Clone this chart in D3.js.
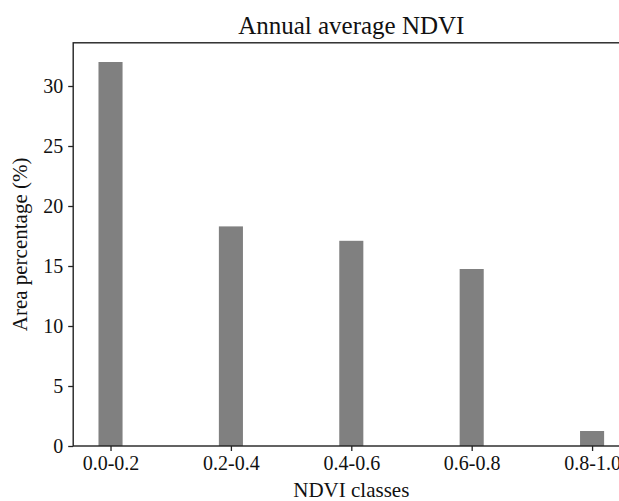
<!DOCTYPE html>
<html>
<head>
<meta charset="utf-8">
<script src="https://cdn.jsdelivr.net/npm/d3@7"></script>
<style>
  html, body { margin: 0; padding: 0; background: #fff; }
  svg { display: block; }
  text { font-family: "Liberation Serif", "Times New Roman", serif; fill: #111; }
</style>
</head>
<body>
<svg id="chart" width="619" height="501"></svg>
<script>
// NDVI class shares of total area
const categories = ["0.0-0.2", "0.2-0.4", "0.4-0.6", "0.6-0.8", "0.8-1.0"];
const areaPct = [32.0, 18.3, 17.1, 14.75, 1.25];
const yTicks = [0, 5, 10, 15, 20, 25, 30];

const W = 619, H = 501;
const plot = { left: 73.2, right: 629.4, top: 42.8, bottom: 446 };
const barWidth = 0.2;

const svg = d3.select("#chart");

// x: category index with 5% margins around the outer bar edges
const span = (categories.length - 1) + barWidth;
const xPad = span * 0.05;
const x = d3.scaleLinear()
  .domain([-barWidth / 2 - xPad, categories.length - 1 + barWidth / 2 + xPad])
  .range([plot.left, plot.right]);

const yMax = d3.max(areaPct) * 1.05;
const y = d3.scaleLinear().domain([0, yMax]).range([plot.bottom, plot.top]);

// bars
svg.append("g").selectAll("rect")
  .data(areaPct)
  .join("rect")
  .attr("x", (d, i) => x(i - barWidth / 2))
  .attr("width", (d, i) => x(i + barWidth / 2) - x(i - barWidth / 2))
  .attr("y", d => y(d))
  .attr("height", d => y(0) - y(d))
  .attr("fill", "#808080");

// frame
svg.append("rect")
  .attr("x", plot.left).attr("y", plot.top)
  .attr("width", plot.right - plot.left).attr("height", plot.bottom - plot.top)
  .attr("fill", "none").attr("stroke", "#222").attr("stroke-width", 1.4);

// axes
const xAxis = d3.axisBottom(x)
  .tickValues(d3.range(categories.length))
  .tickFormat(i => categories[i])
  .tickSize(5).tickPadding(5);
const gx = svg.append("g").attr("transform", `translate(0,${plot.bottom})`).call(xAxis);

const yAxis = d3.axisLeft(y).tickValues(yTicks).tickSize(5).tickPadding(5);
const gy = svg.append("g").attr("transform", `translate(${plot.left},0)`).call(yAxis);

[gx, gy].forEach(g => {
  g.attr("font-family", "'Liberation Serif', serif").attr("font-size", 20);
  g.select(".domain").remove();
  g.selectAll(".tick line").attr("stroke", "#222").attr("stroke-width", 1.3);
  g.selectAll(".tick text").attr("fill", "#111");
});

// title and axis labels
const cx = (plot.left + plot.right) / 2;
svg.append("text")
  .attr("x", cx).attr("y", 34)
  .attr("text-anchor", "middle")
  .style("font-size", "25px")
  .text("Annual average NDVI");

svg.append("text")
  .attr("x", cx).attr("y", 497)
  .attr("text-anchor", "middle")
  .style("font-size", "21px")
  .text("NDVI classes");

svg.append("text")
  .attr("transform", `translate(27,${(plot.top + plot.bottom) / 2}) rotate(-90)`)
  .attr("text-anchor", "middle")
  .style("font-size", "21px")
  .text("Area percentage (%)");
</script>
</body>
</html>
